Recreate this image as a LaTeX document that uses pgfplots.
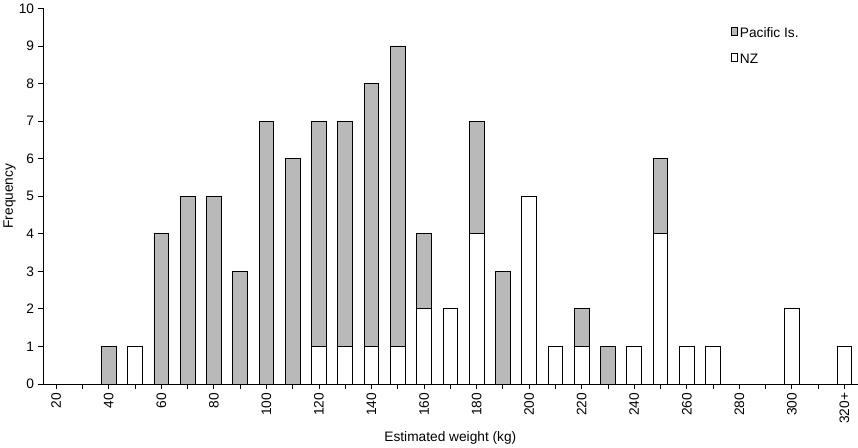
\documentclass[border=0pt]{standalone}
\usepackage{pgfplots}
\pgfplotsset{compat=1.18}
\usepackage{fontspec}
\setmainfont{Liberation Sans}
\begin{document}
\begin{tikzpicture}
\begin{axis}[
  width=772pt, height=356pt, scale only axis,
  ybar stacked, bar width=14pt,
  xmin=-0.5, xmax=30.5, ymin=0, ymax=10,
  axis x line=bottom, axis y line=left, axis line style={-, thick},
  xtick={0,...,30},
  xticklabels={20,,40,,60,,80,,100,,120,,140,,160,,180,,200,,220,,240,,260,,280,,300,,320+},
  x tick label style={rotate=90, anchor=east, font=\fontsize{13}{15}\selectfont},
  ytick={0,...,10}, y tick label style={font=\fontsize{13}{15}\selectfont},
  /pgf/number format/assume math mode=true,
  tick align=outside, major tick length=5pt, tick style={black, thick},
  xlabel={Estimated weight (kg)}, ylabel={Frequency},
  label style={font=\fontsize{13}{15}\selectfont},
  ylabel style={yshift=-4pt},
  legend style={draw=none, at={(0.84,0.96)}, anchor=north west, font=\fontsize{13}{15}\selectfont, row sep=10pt},
  legend cell align=left, reverse legend,
]
\addplot[fill=white, draw=black, thick] coordinates {
(0,0)(1,0)(2,0)(3,1)(4,0)(5,0)(6,0)(7,0)(8,0)(9,0)(10,1)(11,1)(12,1)(13,1)(14,2)(15,2)(16,4)(17,0)(18,5)(19,1)(20,1)(21,0)(22,1)(23,4)(24,1)(25,1)(26,0)(27,0)(28,2)(29,0)(30,1)};
\addplot[fill=gray!55, draw=black, thick] coordinates {
(0,0)(1,0)(2,1)(3,0)(4,4)(5,5)(6,5)(7,3)(8,7)(9,6)(10,6)(11,6)(12,7)(13,8)(14,2)(15,0)(16,3)(17,3)(18,0)(19,0)(20,1)(21,1)(22,0)(23,2)(24,0)(25,0)(26,0)(27,0)(28,0)(29,0)(30,0)};
\legend{NZ,Pacific Is.}
\end{axis}
\end{tikzpicture}
\end{document}
